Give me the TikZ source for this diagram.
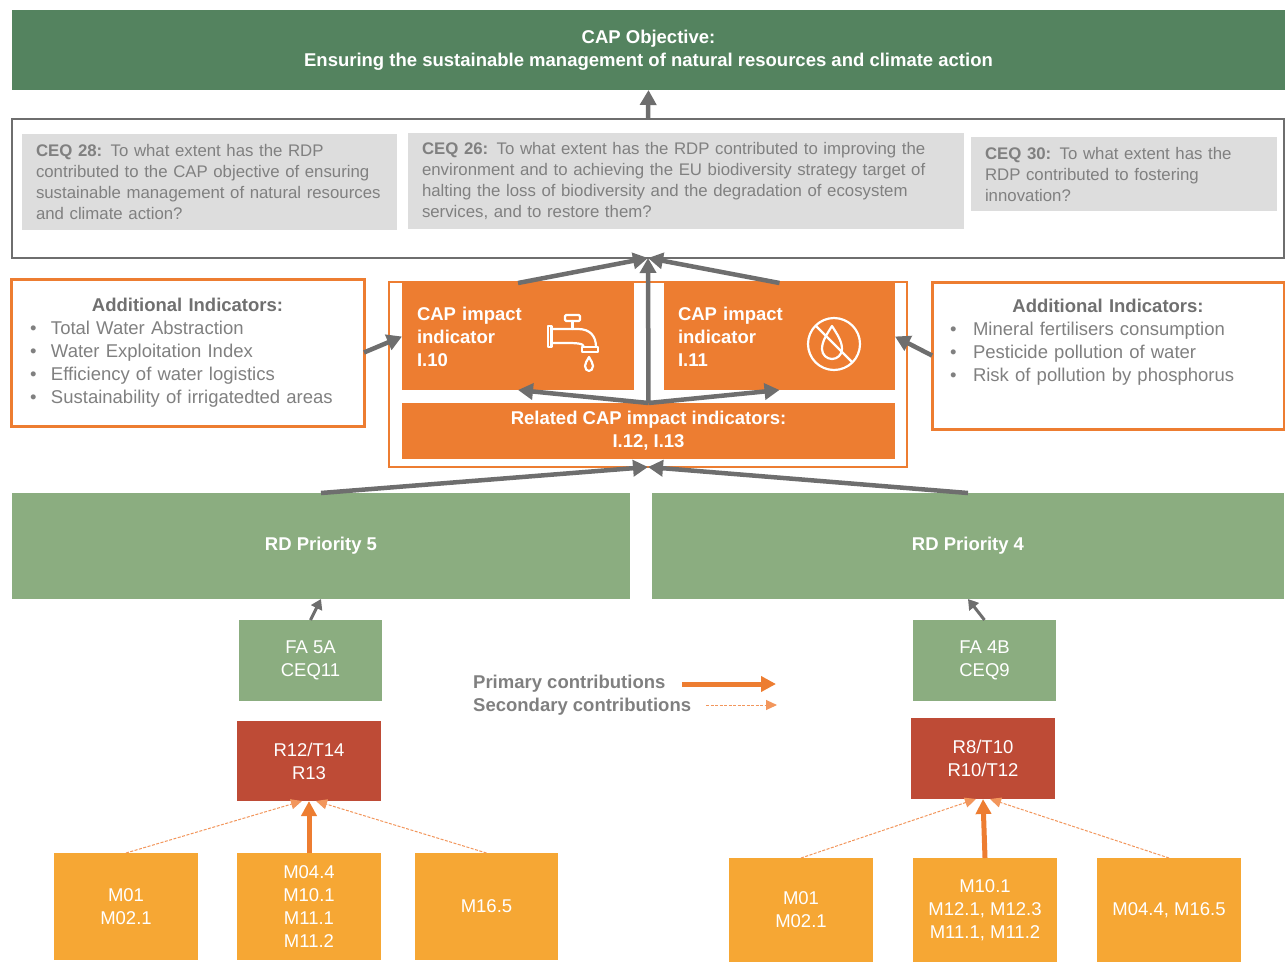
\documentclass[tikz,border=0pt]{standalone}
\usepackage{fontspec}
\setmainfont{Liberation Sans}
\usetikzlibrary{arrows.meta,calc}
\definecolor{dkgreen}{RGB}{84,131,95}
\definecolor{ltgreen}{RGB}{139,173,128}
\definecolor{corange}{RGB}{237,125,49}
\definecolor{myellow}{RGB}{246,167,52}
\definecolor{rbrown}{RGB}{190,75,54}
\definecolor{lgray}{RGB}{221,221,221}
\definecolor{tgray}{RGB}{128,128,128}
\definecolor{bgray}{RGB}{112,112,112}
\definecolor{agray}{RGB}{110,110,110}
\definecolor{lorange}{RGB}{242,150,92}
\newcommand\myfs[2]{\fontsize{#1}{#2}\selectfont}
\begin{document}
\begin{tikzpicture}[x=1pt,y=-1pt,
  rect/.style={anchor=north west, inner sep=0pt, outer sep=0pt, align=center},
  wreg/.style={text=white, font=\myfs{18.5}{23}},
  wbold/.style={text=white, font=\bfseries\myfs{18.5}{23}},
  ceqbox/.style={rect, fill=lgray, text=tgray, align=left, inner xsep=14pt, font=\myfs{16.8}{21}},
  addbox/.style={rect, draw=corange, line width=3pt, fill=white, text=tgray, align=left, font=\myfs{18.5}{23}},
  garrow/.style={draw=agray, line width=4.5pt, -{Triangle[length=15pt,width=16pt]}},
  sarrow/.style={draw=agray, line width=3pt, -{Triangle[length=10pt,width=12pt]}},
  parrow/.style={draw=corange, line width=5pt, -{Triangle[length=15pt,width=15pt]}},
  secarrow/.style={draw=lorange, line width=1pt, dash pattern=on 3pt off 1.5pt, -{Triangle[length=11pt,width=10pt]}},
  icon/.style={draw=white, line width=2.2pt, line cap=round, line join=round},
  legend/.style={anchor=west, inner sep=0pt, text=tgray, font=\bfseries\myfs{18.5}{23}}
]
\useasboundingbox (0,0) rectangle (1285,962);

% top banner
\node[rect, wbold, fill=dkgreen, minimum width=1273pt, minimum height=80pt] (banner) at (12,10)
  {CAP Objective:\\Ensuring the sustainable management of natural resources and climate action};

% CEQ frame
\node[rect, draw=agray, line width=2pt, minimum width=1272pt, minimum height=139pt] (ceqframe) at (12,119) {};
\node[ceqbox, text width=347pt, minimum width=375pt, minimum height=96pt] (ceq28) at (22,134)
  {\textbf{CEQ 28:} To what extent has the RDP\\contributed to the CAP objective of ensuring\\sustainable management of natural resources\\and climate action?};
\node[ceqbox, text width=528pt, minimum width=556pt, minimum height=96pt] (ceq26) at (408,133)
  {\textbf{CEQ 26:} To what extent has the RDP contributed to improving the\\environment and to achieving the EU biodiversity strategy target of\\halting the loss of biodiversity and the degradation of ecosystem\\services, and to restore them?};
\node[ceqbox, text width=278pt, minimum width=306pt, minimum height=74pt] (ceq30) at (971,137)
  {\textbf{CEQ 30:} To what extent has the\\RDP contributed to fostering\\innovation?};

% orange frame with impact indicators
\node[rect, draw=corange, line width=2pt, minimum width=518pt, minimum height=185pt] (oframe) at (389,282) {};
\node[rect, wbold, fill=corange, align=left, inner xsep=15pt, text width=202pt, minimum width=232pt, minimum height=107pt] (i10) at (402,283)
  {CAP impact\\indicator\\I.10};
\node[rect, wbold, fill=corange, align=left, inner xsep=14pt, text width=203pt, minimum width=231pt, minimum height=107pt] (i11) at (664,283)
  {CAP impact\\indicator\\I.11};
\node[rect, wbold, fill=corange, minimum width=493pt, minimum height=56pt] (related) at (402,403)
  {Related CAP impact indicators:\\I.12, I.13};

% faucet icon
\draw[icon, rounded corners=1.2pt] (565,315) rectangle (580,321);
\draw[icon] (572.5,321) -- (572.5,329);
\draw[icon] (548,326) rectangle (551.5,347);
\draw[icon] (551.5,329) -- (578,329) .. controls (590,329) and (596,336) .. (596,347);
\draw[icon] (551.5,343) -- (565,343) .. controls (575,343) and (584,343) .. (584,347);
\draw[icon] (582,347) rectangle (598,352);
\draw[icon] (589,357) .. controls (587,361) and (585,363) .. (585,366) .. controls (585,369) and (587,371) .. (589,371) .. controls (591,371) and (593,369) .. (593,366) .. controls (593,363) and (591,361) .. (589,357) -- cycle;

% no-drop icon
\draw[icon] (834,344) circle[radius=26];
\draw[icon] (832,326) .. controls (827,334) and (822,341) .. (822,349) .. controls (822,355) and (827,359) .. (832,359) .. controls (837,359) and (842,355) .. (842,349) .. controls (842,341) and (837,334) .. (832,326) -- cycle;
\draw[icon] (816,326) -- (852,362);

% additional indicators
\node[addbox, inner xsep=19pt, text width=315pt, minimum width=353pt, minimum height=147pt] (addL) at (11,279)
  {{\centering\bfseries\color{bgray}Additional Indicators:\par}
   \makebox[21pt][l]{\textbullet}Total Water Abstraction\\
   \makebox[21pt][l]{\textbullet}Water Exploitation Index\\
   \makebox[21pt][l]{\textbullet}Efficiency of water logistics\\
   \makebox[21pt][l]{\textbullet}Sustainability of irrigatedted areas};
\node[addbox, inner xsep=18pt, text width=316pt, minimum width=352pt, minimum height=147pt] (addR) at (932,282)
  {{\centering\bfseries\color{bgray}Additional Indicators:\par}
   \makebox[23pt][l]{\textbullet}Mineral fertilisers consumption\\
   \makebox[23pt][l]{\textbullet}Pesticide pollution of water\\
   \makebox[23pt][l]{\textbullet}Risk of pollution by phosphorus\\
   \strut};

% RD priorities
\node[rect, wbold, fill=ltgreen, minimum width=618pt, minimum height=106pt] (rd5) at (12,493) {RD Priority 5};
\node[rect, wbold, fill=ltgreen, minimum width=632pt, minimum height=106pt] (rd4) at (652,493) {RD Priority 4};

% left branch
\node[rect, wreg, fill=ltgreen, minimum width=143pt, minimum height=81pt] (fa5a) at (239,620) {FA 5A\\CEQ11};
\node[rect, wreg, fill=rbrown, minimum width=144pt, minimum height=80pt] (r1) at (237,721) {R12/T14\\R13};
\node[rect, wreg, fill=myellow, minimum width=144pt, minimum height=107pt] (m1) at (54,853) {M01\\M02.1};
\node[rect, wreg, fill=myellow, minimum width=144pt, minimum height=107pt] (m2) at (237,853) {M04.4\\M10.1\\M11.1\\M11.2};
\node[rect, wreg, fill=myellow, minimum width=143pt, minimum height=107pt] (m3) at (415,853) {M16.5};

% right branch
\node[rect, wreg, fill=ltgreen, minimum width=143pt, minimum height=81pt] (fa4b) at (913,620) {FA 4B\\CEQ9};
\node[rect, wreg, fill=rbrown, minimum width=144pt, minimum height=81pt] (r2) at (911,718) {R8/T10\\R10/T12};
\node[rect, wreg, fill=myellow, minimum width=144pt, minimum height=104pt] (m4) at (729,858) {M01\\M02.1};
\node[rect, wreg, fill=myellow, minimum width=144pt, minimum height=104pt] (m5) at (913,858) {M10.1\\M12.1, M12.3\\M11.1, M11.2};
\node[rect, wreg, fill=myellow, minimum width=144pt, minimum height=104pt] (m6) at (1097,858) {M04.4, M16.5};

% legend
\node[legend] (lprim) at (473,684) {Primary contributions};
\node[legend] (lsec) at (473,707) {Secondary contributions};
\coordinate (lp1) at (682,684);
\coordinate (lp2) at (776,684);
\coordinate (ls1) at (706,705);
\coordinate (ls2) at (777,705);
\draw[parrow] (lp1) -- (lp2);
\draw[secarrow] (ls1) -- (ls2);

% gray connectors
\draw[garrow] (ceqframe.north) -- (banner.south);
\draw[garrow] (i10.north) -- (ceqframe.south);
\draw[garrow] (i11.north) -- (ceqframe.south);
\draw[garrow] (related.north) -- (ceqframe.south);
\draw[garrow] (related.north) -- (i10.south);
\draw[garrow] (related.north) -- (i11.south);
\draw[garrow] (rd5.north) -- (oframe.south);
\draw[garrow] (rd4.north) -- (oframe.south);
\draw[garrow] (addL.east) -- (i10.west);
\draw[garrow] (addR.west) -- (i11.east);
\draw[sarrow] (fa5a.north) -- (rd5.south);
\draw[sarrow] (fa4b.north) -- (rd4.south);

% contributions
\draw[parrow] (m2.north) -- (r1.south);
\draw[secarrow] (m1.north) -- ($(r1.south)+(-7,0)$);
\draw[secarrow] (m3.north) -- ($(r1.south)+(7,0)$);
\draw[parrow] (m5.north) -- (r2.south);
\draw[secarrow] (m4.north) -- ($(r2.south)+(-7,0)$);
\draw[secarrow] (m6.north) -- ($(r2.south)+(7,0)$);
\end{tikzpicture}
\end{document}
